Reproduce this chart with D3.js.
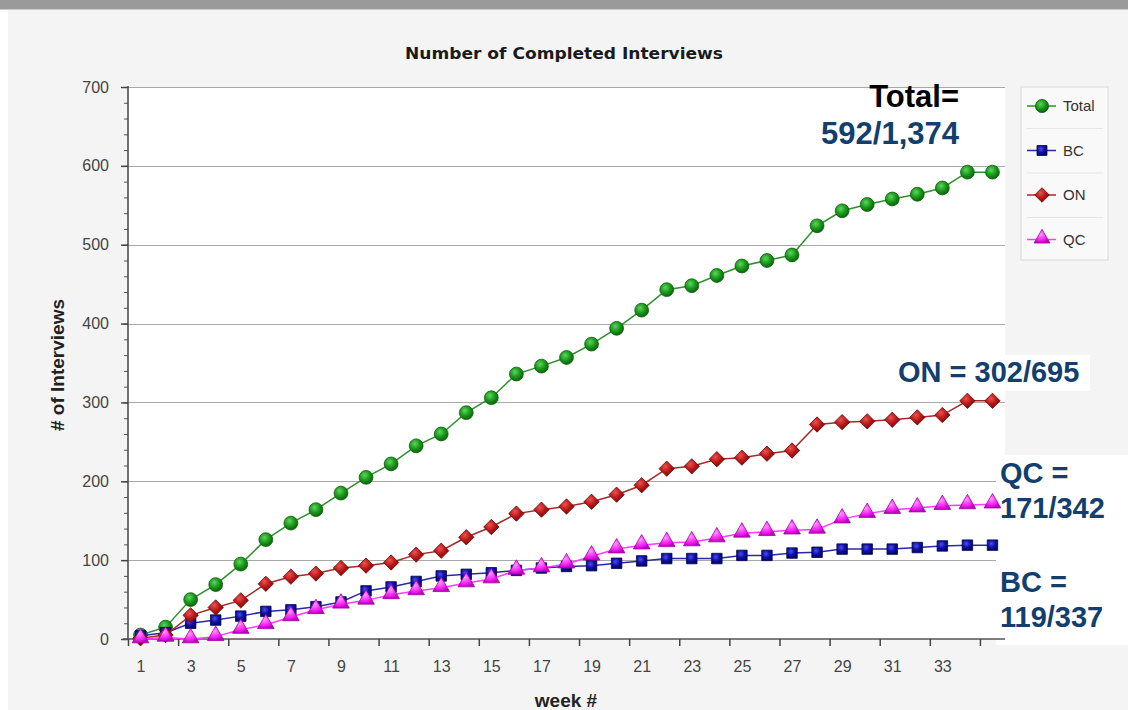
<!DOCTYPE html>
<html>
<head>
<meta charset="utf-8">
<script src="https://cdn.jsdelivr.net/npm/d3@7"></script>
<style>
  body { margin: 0; background: #f4f4f4; }
  svg { display: block; font-family: "Liberation Sans", Arial, sans-serif; }
</style>
</head>
<body>
<svg id="chart" width="1128" height="710"></svg>
<script>
// week numbers (categories)
var weeks = [1,2,3,4,5,6,7,8,9,10,11,12,13,14,15,16,17,18,19,20,21,22,23,24,25,26,27,28,29,30,31,32,33,34,35];
var weekLabels = [1,3,5,7,9,11,13,15,17,19,21,23,25,27,29,31,33];
var weekTicks = [0.5,2.5,4.5,6.5,8.5,10.5,12.5,14.5,16.5,18.5,20.5,22.5,24.5,26.5,28.5,30.5,32.5,34.5];
var yTicks = [0,100,200,300,400,500,600,700];

var totalValues = [5,15,50,69,95,126,147,164,185,205,222,245,260,287,306,336,346,357,374,394,417,443,448,461,473,480,487,524,543,551,558,564,572,592,592];
var bcValues = [4,8,20,24,29,35,37,41,47,61,66,73,80,82,84,87,90,92,93,96,99,102,102,102,106,106,109,110,114,114,114,116,118,119,119];
var onValues = [1,5,30,40,49,70,79,83,90,93,97,107,112,129,142,159,164,168,174,183,195,216,219,228,230,235,239,272,275,276,278,281,284,302,302];
var qcValues = [0,2,0,3,12,18,28,37,44,49,56,61,65,71,76,87,90,95,105,114,119,122,123,128,134,136,138,139,152,159,164,166,169,170,171];

var seriesNames = ["Total", "BC", "ON", "QC"];

var svg = d3.select("#chart");
var W = 1128, H = 710;
var plot = {left: 128, right: 1005, top: 87, bottom: 639};

// page chrome
svg.append("rect").attr("x", 0).attr("y", 0).attr("width", W).attr("height", H).attr("fill", "#f4f4f4");
svg.append("rect").attr("x", 0).attr("y", 0).attr("width", 8).attr("height", H).attr("fill", "#ffffff");
svg.append("rect").attr("x", 0).attr("y", 0).attr("width", W).attr("height", 9).attr("fill", "#9a9a9a");
svg.append("line").attr("x1", 0).attr("x2", W).attr("y1", 9.5).attr("y2", 9.5).attr("stroke", "#c9c9c9");

var x = d3.scaleLinear().domain([0.5, 35.5]).range([plot.left, plot.right]);
var y = d3.scaleLinear().domain([0, 700]).range([plot.bottom, plot.top]);

// gradients for the shiny markers
var defs = svg.append("defs");
function radial(id, light, mid, dark) {
    var g = defs.append("radialGradient").attr("id", id)
        .attr("cx", "40%").attr("cy", "35%").attr("r", "65%");
    g.append("stop").attr("offset", "0%").attr("stop-color", light);
    g.append("stop").attr("offset", "55%").attr("stop-color", mid);
    g.append("stop").attr("offset", "100%").attr("stop-color", dark);
}
radial("gTotal", "#5fd65f", "#1a9a1a", "#0b650b");
radial("gBC", "#4d4df0", "#1010a8", "#05056a");
radial("gON", "#ef5050", "#b81818", "#7a0a0a");
radial("gQC", "#ff9cff", "#ff30ff", "#c000c0");

// plot background
svg.append("rect").attr("x", plot.left).attr("y", plot.top)
    .attr("width", plot.right - plot.left).attr("height", plot.bottom - plot.top)
    .attr("fill", "#ffffff");

// grid lines
svg.append("g").selectAll("line").data(yTicks.slice(1)).join("line")
    .attr("x1", plot.left).attr("x2", plot.right)
    .attr("y1", function (d) { return Math.round(y(d)) + 0.5; })
    .attr("y2", function (d) { return Math.round(y(d)) + 0.5; })
    .attr("stroke", "#a8a8a8").attr("stroke-width", 1.2);

// annotation boxes (white text boxes pasted on top of the chart)
svg.append("rect").attr("x", 996).attr("y", 455).attr("width", 132).attr("height", 190).attr("fill", "#ffffff");
svg.append("rect").attr("x", 1005).attr("y", 355).attr("width", 85).attr("height", 36).attr("fill", "#ffffff");

// y axis
var yMinor = d3.range(0, 701, 20);
svg.append("g").attr("transform", "translate(" + plot.left + ",0)")
    .call(d3.axisLeft(y).tickValues(yMinor).tickSize(4).tickFormat(""))
    .call(function (g) {
        g.select(".domain").remove();
        g.selectAll("line").attr("stroke", "#555");
    });
var yAxis = svg.append("g").attr("transform", "translate(" + plot.left + ",0)")
    .call(d3.axisLeft(y).tickValues(yTicks).tickSize(7).tickPadding(12));
yAxis.select(".domain").attr("stroke", "#444").attr("stroke-width", 1.5)
    .attr("d", "M0," + (plot.top - 1) + "V" + plot.bottom);
yAxis.selectAll("line").attr("stroke", "#444").attr("stroke-width", 1.5);
yAxis.selectAll("text").attr("font-size", 16).attr("fill", "#444")
    .attr("font-family", "Liberation Sans, Arial, sans-serif");

// x axis
var xAxis = svg.append("g").attr("transform", "translate(0," + plot.bottom + ")")
    .call(d3.axisBottom(x).tickValues(weekTicks).tickSize(7).tickFormat(""));
xAxis.select(".domain").attr("stroke", "#555").attr("stroke-width", 1.5)
    .attr("d", "M" + (plot.left - 5) + ",0H" + plot.right);
xAxis.selectAll("line").attr("stroke", "#444").attr("stroke-width", 1.5);

var xLabels = svg.append("g").attr("transform", "translate(0," + plot.bottom + ")")
    .call(d3.axisBottom(x).tickValues(weekLabels).tickSize(0).tickPadding(22).tickFormat(d3.format("d")));
xLabels.select(".domain").remove();
xLabels.selectAll("text").attr("font-size", 16).attr("fill", "#444")
    .attr("font-family", "Liberation Sans, Arial, sans-serif");

// titles
svg.append("text").attr("x", 564).attr("y", 59).attr("text-anchor", "middle")
    .attr("font-family", "DejaVu Sans, sans-serif").attr("font-weight", "bold")
    .attr("font-size", 16).attr("fill", "#1a1a1a")
    .attr("textLength", 318).attr("lengthAdjust", "spacingAndGlyphs")
    .text("Number of Completed Interviews");
svg.append("text").attr("transform", "translate(64,365) rotate(-90)").attr("text-anchor", "middle")
    .attr("font-weight", "bold").attr("font-size", 19).attr("fill", "#222")
    .text("# of Interviews");
svg.append("text").attr("x", 566).attr("y", 707).attr("text-anchor", "middle")
    .attr("font-weight", "bold").attr("font-size", 19).attr("fill", "#222")
    .text("week #");

// series
var series = [
    {name: "Total", values: totalValues, line: "#2f8f2f", fill: "url(#gTotal)", stroke: "#0d5a0d", shape: d3.symbolCircle, size: 150},
    {name: "BC", values: bcValues, line: "#2a2aa0", fill: "url(#gBC)", stroke: "#04044f", shape: d3.symbolSquare, size: 110},
    {name: "ON", values: onValues, line: "#a52a2a", fill: "url(#gON)", stroke: "#6a0808", shape: d3.symbolDiamond2, size: 150},
    {name: "QC", values: qcValues, line: "#ff3cff", fill: "url(#gQC)", stroke: "#a000a0", shape: d3.symbolTriangle, size: 120}
];

var line = d3.line()
    .x(function (d, i) { return x(weeks[i]); })
    .y(function (d) { return y(d); });

series.forEach(function (s) {
    var g = svg.append("g").attr("class", "series-" + s.name);
    g.append("path").datum(s.values)
        .attr("d", line).attr("fill", "none")
        .attr("stroke", s.line).attr("stroke-width", 1.5);
    var sym = d3.symbol().type(s.shape).size(s.size);
    g.selectAll("path.pt").data(s.values).join("path").attr("class", "pt")
        .attr("transform", function (d, i) {
            var dy = s.shape === d3.symbolTriangle ? -1 : 0;
            return "translate(" + x(weeks[i]) + "," + (y(d) + dy) + ")";
        })
        .attr("d", sym)
        .attr("fill", s.fill).attr("stroke", s.stroke).attr("stroke-width", 0.8);
});

// legend
var legend = svg.append("g").attr("transform", "translate(1021,87)");
legend.append("rect").attr("width", 87).attr("height", 173)
    .attr("fill", "#f9f9f9").attr("stroke", "#d8d8d8");
seriesNames.forEach(function (name, i) {
    var s = series[i];
    var cy = 19 + i * 44.5;
    var item = legend.append("g").attr("transform", "translate(0," + cy + ")");
    if (i > 0) {
        item.append("line").attr("x1", 6).attr("x2", 82).attr("y1", -22).attr("y2", -22)
            .attr("stroke", "#e6e6e6");
    }
    item.append("line").attr("x1", 6).attr("x2", 35).attr("y1", 0).attr("y2", 0)
        .attr("stroke", s.line).attr("stroke-width", 1.5);
    item.append("path").attr("transform", "translate(21," + (s.shape === d3.symbolTriangle ? -1 : 0) + ")")
        .attr("d", d3.symbol().type(s.shape).size(s.size * 0.9))
        .attr("fill", s.fill).attr("stroke", s.stroke).attr("stroke-width", 0.8);
    item.append("text").attr("x", 42).attr("y", 5).attr("font-size", 15).attr("fill", "#333")
        .text(name);
});

// annotations
var navy = "#123f6e";
function note(txt, xx, yy, color, anchor, size) {
    svg.append("text").attr("x", xx).attr("y", yy).attr("text-anchor", anchor)
        .attr("font-weight", "bold").attr("font-size", size).attr("fill", color).text(txt);
}
note("Total=", 959, 107, "#000000", "end", 31);
note("592/1,374", 959, 144, navy, "end", 31);
note("ON = 302/695", 898, 382, navy, "start", 29);
note("QC =", 1000, 483, navy, "start", 29);
note("171/342", 1000, 518, navy, "start", 29);
note("BC =", 1000, 592, navy, "start", 29);
note("119/337", 1000, 627, navy, "start", 29);
</script>
</body>
</html>
